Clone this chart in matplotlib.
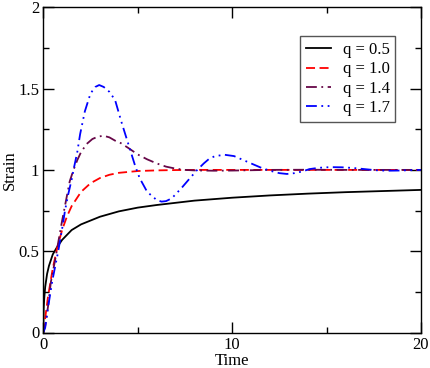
import matplotlib
matplotlib.use("Agg")
import matplotlib.pyplot as plt
from matplotlib.ticker import MultipleLocator

plt.rcParams['font.family'] = ['Liberation Serif', 'DejaVu Serif']

# q = 0.5
t_q05 = [0, 0.02, 0.05, 0.1, 0.2, 0.3, 0.5, 0.7, 1, 1.5, 2, 3, 4, 5, 6, 8, 10, 12, 14, 16, 18, 20]
y_q05 = [0, 0.15, 0.21, 0.28, 0.36, 0.41, 0.48, 0.52, 0.57, 0.63, 0.665, 0.712, 0.745, 0.768, 0.784,
         0.811, 0.829, 0.843, 0.854, 0.863, 0.870, 0.877]
# q = 1.0
t_q10 = [0, 0.25, 0.5, 0.75, 1, 1.25, 1.5, 2, 2.5, 3, 3.5, 4, 5, 6, 7, 8, 10, 12, 14, 16, 18, 20]
y_q10 = [0, 0.221, 0.393, 0.528, 0.632, 0.713, 0.777, 0.865, 0.918, 0.950, 0.970, 0.982, 0.993,
         0.997, 0.999, 1.0, 1.0, 1.0, 1.0, 1.0, 1.0, 1.0]
# q = 1.4
t_q14 = [0, 0.1, 0.25, 0.4, 0.6, 0.8, 1.0, 1.2, 1.4, 1.6, 1.8, 2.0, 2.3, 2.6, 2.9, 3.2, 3.5, 3.8,
         4.1, 4.5, 5.0, 5.5, 6.0, 6.5, 7.0, 7.5, 8, 9, 10, 11, 12, 14, 16, 18, 20]
y_q14 = [0, 0.04, 0.16, 0.31, 0.43, 0.56, 0.69, 0.81, 0.93, 1.0, 1.06, 1.11, 1.16, 1.19, 1.205,
         1.21, 1.20, 1.18, 1.165, 1.135, 1.095, 1.065, 1.04, 1.02, 1.008, 1.0, 0.997, 0.995, 0.996,
         0.998, 1.0, 1.001, 1.0, 1.0, 1.0]
# q = 1.7
t_q17 = [0, 0.1, 0.26, 0.48, 0.79, 1.0, 1.15, 1.3, 1.5, 1.6, 1.8, 1.95, 2.2, 2.5, 2.75, 2.96, 3.2,
         3.5, 3.8, 4.15, 4.5, 4.85, 5.1, 5.5, 6.0, 6.26, 6.5, 6.8, 7.3, 7.75, 8.15, 8.5, 8.8, 9.1,
         9.6, 10.1, 10.6, 11.0, 11.5, 12.0, 12.5, 12.9, 13.3, 13.7, 14.1, 14.6, 15.2, 15.8, 16.4,
         17.0, 17.6, 18.2, 18.8, 19.4, 20]
y_q17 = [0, 0.03, 0.16, 0.32, 0.50, 0.64, 0.75, 0.84, 0.94, 1.0, 1.11, 1.22, 1.36, 1.47, 1.51,
         1.522, 1.51, 1.48, 1.43, 1.29, 1.16, 1.03, 0.95, 0.865, 0.815, 0.805, 0.808, 0.825, 0.886,
         0.947, 1.0, 1.04, 1.07, 1.085, 1.093, 1.085, 1.06, 1.04, 1.015, 0.995, 0.98, 0.975, 0.98,
         0.99, 1.005, 1.013, 1.017, 1.016, 1.012, 1.005, 0.998, 0.995, 0.996, 0.998, 1.0]

labels = ["q = 0.5", "q = 1.0", "q = 1.4", "q = 1.7"]

fig = plt.figure(figsize=(4.31, 3.68), dpi=100)
ax = fig.add_axes([43.3 / 431, 1 - 332.5 / 368, (421 - 43.3) / 431, (332.5 - 7.3) / 368])

lw = 1.3
ax.plot(t_q05, y_q05, color='black', lw=lw, label=labels[0])
ax.plot(t_q10, y_q10, color='#ff0000', lw=lw, dashes=(5, 2.5), label=labels[1])
ax.plot(t_q14, y_q14, color='#670748', lw=lw, dashes=(6, 2.5, 1, 2.5), label=labels[2])
ax.plot(t_q17, y_q17, color='#0000ff', lw=lw, dashes=(6, 2.5, 1, 2.5, 1, 2.5), label=labels[3])

ax.set_xlim(0, 20)
ax.set_ylim(0, 2)
ax.xaxis.set_major_locator(MultipleLocator(10))
ax.xaxis.set_minor_locator(MultipleLocator(5))
ax.yaxis.set_major_locator(MultipleLocator(0.5))
ax.yaxis.set_minor_locator(MultipleLocator(0.25))
ax.yaxis.set_major_formatter(plt.FuncFormatter(lambda v, p: ('%g' % v)))
ax.tick_params(which='both', direction='in', top=True, right=True, labelsize=12, width=1.0)
ax.tick_params(which='major', length=8)
ax.tick_params(which='minor', length=4.5)
ax.tick_params(axis='x', pad=3)
ax.tick_params(axis='y', pad=3)
for s in ax.spines.values():
    s.set_linewidth(1.0)

ax.set_xlabel("Time", fontsize=12, labelpad=0)
ax.set_ylabel("Strain", fontsize=12, va='center')
ax.yaxis.set_label_coords((9.5 - 43.3) / 377.7, 0.5)

leg = ax.legend(loc='upper left', bbox_to_anchor=(0.68, 0.911), fontsize=12, frameon=True,
                fancybox=False, edgecolor='#555555', framealpha=1, handlelength=1.5,
                handletextpad=0.7, labelspacing=0.2, borderpad=0.35, borderaxespad=0)
leg.get_frame().set_linewidth(1.0)

fig.savefig("out.png", dpi=100)
